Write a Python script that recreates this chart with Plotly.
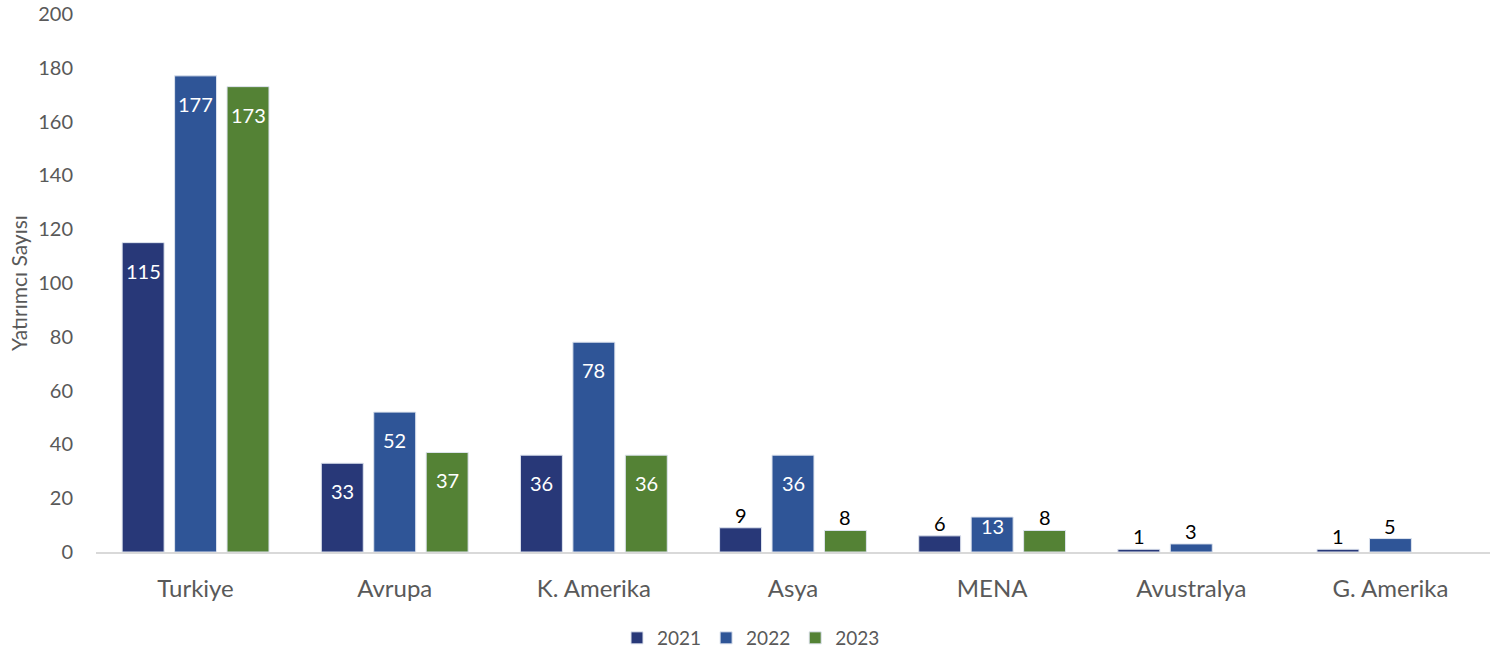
import plotly.graph_objects as go

categories = ["Turkiye", "Avrupa", "K. Amerika", "Asya", "MENA", "Avustralya", "G. Amerika"]
years = ["2021", "2022", "2023"]
v2021 = [115, 33, 36, 9, 6, 1, 1]
v2022 = [177, 52, 78, 36, 13, 3, 5]
v2023 = [173, 37, 36, 8, 8, None, None]
colors = ["#283878", "#2F5597", "#548235"]

series = [v2021, v2022, v2023]
FONT = "Lato"
bargap = 0.21
bargroupgap = 0.2

fig = go.Figure()
for name, vals, col in zip(years, series, colors):
    fig.add_trace(go.Bar(
        x=categories, y=vals, name=name,
        marker=dict(color=col, line=dict(color="#dde3ee", width=1)),
        hoverinfo="x+y+name",
    ))

# data labels via annotations placed at the bar values
slot = (1 - bargap) / 3
annotations = []
for k, vals in enumerate(series):
    for i, v in enumerate(vals):
        if v is None:
            continue
        inside = v >= 13
        if inside:
            shift = -28 if v >= 20 else -9
            color = "white"
        else:
            shift = 13
            color = "black"
        annotations.append(dict(
            x=i + (k - 1) * slot, y=v, xref="x", yref="y",
            text=str(v), showarrow=False, yshift=shift,
            yanchor="middle", xanchor="center",
            font=dict(family=FONT, size=20, color=color),
        ))

annotations.append(dict(
    text="Yatırımcı Sayısı", textangle=-90, showarrow=False,
    xref="paper", x=0, xshift=-78, yref="paper", y=0.5,
    xanchor="center", yanchor="middle",
    font=dict(family=FONT, size=21, color="#595959"),
))

fig.update_layout(
    width=1502, height=657,
    margin=dict(l=96, r=12, t=14, b=105, autoexpand=False),
    plot_bgcolor="white", paper_bgcolor="white",
    barmode="group", bargap=bargap, bargroupgap=bargroupgap,
    font=dict(family=FONT, size=20, color="#595959"),
    annotations=annotations,
    showlegend=True,
    legend=dict(orientation="h", x=0.5, xanchor="center", xref="container",
                y=0.0, yanchor="bottom", yref="container",
                font=dict(family=FONT, size=19, color="#595959"),
                itemwidth=30, traceorder="normal"),
    xaxis=dict(showgrid=False, showline=True, linecolor="#d9d9d9", linewidth=2,
               ticks="", automargin=False,
               tickfont=dict(family=FONT, size=24, color="#595959"),
               ticklabelstandoff=14),
    yaxis=dict(range=[0, 200], dtick=20, showgrid=False, zeroline=False,
               showline=False, ticks="", automargin=False,
               ticklabeloverflow="allow",
               tickfont=dict(family=FONT, size=20, color="#595959"),
               ticklabelstandoff=22),
)

fig.write_html("out.html", config={"displayModeBar": False},
               post_script="document.body.style.margin='0';")
